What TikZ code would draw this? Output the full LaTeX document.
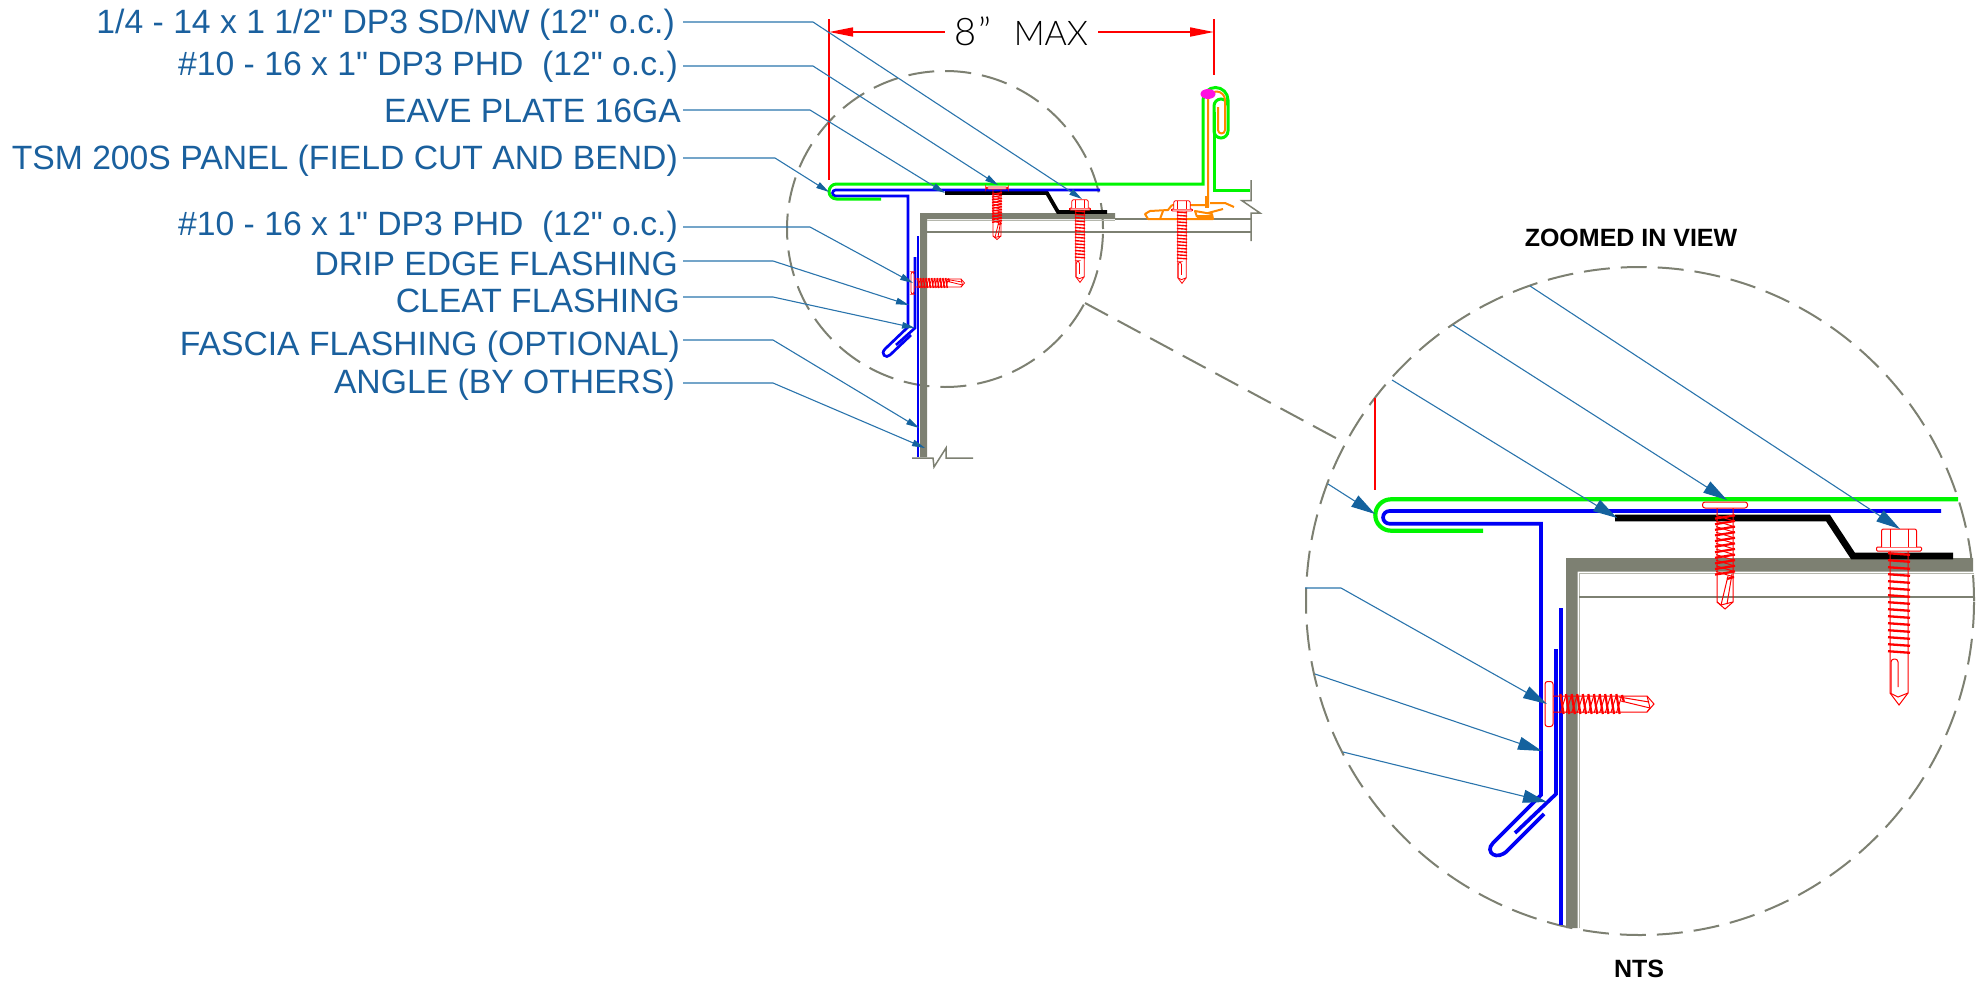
\documentclass[tikz,border=0pt]{standalone}
\usepackage{fontspec}
\setmainfont{Liberation Sans}
\newfontfamily\lblfont{Liberation Sans}
\newfontfamily\dimfont{Lato Light}
\usetikzlibrary{arrows.meta,calc}
\definecolor{cgreen}{HTML}{00F500}
\definecolor{cblue}{HTML}{0000F5}
\definecolor{cred}{HTML}{FF0000}
\definecolor{corange}{HTML}{FF8800}
\definecolor{cmag}{HTML}{FF10E0}
\definecolor{cgray}{HTML}{7D8072}
\definecolor{clight}{HTML}{B4B6AC}
\definecolor{ctext}{HTML}{1A609E}
\definecolor{cleader}{HTML}{2A74AC}
\definecolor{carrow}{HTML}{14629E}
\tikzset{
  lbl/.style={anchor=east,inner sep=0pt,text height=24pt,text depth=0pt,text=ctext,font=\lblfont\fontsize{33.7}{36}\selectfont},
  title/.style={inner sep=0pt,font=\fontsize{25}{28}\selectfont\bfseries,text=black},
  leadS/.style={draw=cleader,line width=1.1pt,-{Triangle[length=13pt,width=6.5pt,color=carrow]}},
  leadB/.style={draw=cleader,line width=1.1pt,-{Triangle[length=24pt,width=13pt,color=carrow]}},
  dimline/.style={draw=cred,line width=1.7pt},
  dimarrow/.style={draw=cred,line width=1.7pt,-{Triangle[length=24pt,width=9pt,color=cred]}},
  circ/.style={draw=cgray,line width=2pt,dash pattern=on 26pt off 11pt},
  gfill/.style={fill=cgray,draw=none},
  gline/.style={draw=cgray,line width=1.5pt},
  lightline/.style={draw=clight,line width=1pt},
  bigblue/.style={draw=cblue,line width=3.7pt,line join=miter},
  bigblack/.style={draw=black,line width=6.8pt,line join=miter},
  biggreen/.style={draw=cgreen,line width=4.2pt},
  smallblue/.style={draw=cblue,line width=2.7pt},
  smallblack/.style={draw=black,line width=3.8pt},
  smallgreen/.style={draw=cgreen,line width=3pt},
  orangeln/.style={draw=corange,line width=2pt,line join=round},
}
% hex washer-head screw, pointing down
\newcommand\hexscrew[5]{%
\begin{scope}[shift={(#1,#2)},scale=#3,draw=cred]
  \draw[line width=#4,fill=white,rounded corners=1pt] (-22.5,-4) rectangle (22.5,0);
  \draw[line width=#4,fill=white,rounded corners=2pt] (-17.5,-4) -- (-17.5,-22) -- (17.5,-22) -- (17.5,-4);
  \draw[line width=#4] (-9,-22) -- (-9,-4) (9,-22) -- (9,-4);
  \draw[line width=#4] (-9,0) -- (-9,142) -- (0,154) -- (9,142) -- (9,0);
  \draw[line width=#4,rounded corners=3pt] (-8,142) -- (-8,108) -- (-1,108) -- (-1,136);
  \draw[line width=#4] (-9,142) -- (-1,146) -- (9,142);
  \foreach \i in {0,...,14}
    \draw[line width=#5] (-11,{3+7*\i-0.8}) -- (11,{3+7*\i+0.8});
\end{scope}}
% pan-head screw: origin under the washer, pointing down unless rotated
\newcommand\panscrew[7]{%
\begin{scope}[shift={(#1,#2)},rotate=#3,scale=#4,draw=cred]
  \draw[line width=#5,fill=white,rounded corners=2.5pt] (-22.5,-#7) rectangle (22.5,0);
  \draw[line width=#5] (-8,0) -- (-8,94) -- (0,101) -- (8,94) -- (8,0);
  \draw[line width=#5] (-8,94) -- (-4,97) -- (8,94);
  \draw[line width=#5] (3,68) -- (-4,97) (7,66) -- (2,96);
  \foreach \i in {0,...,10}{
    \draw[line width=#6] (-10,{9+5.6*\i+1.6}) -- (10,{9+5.6*\i-1.6});
    \draw[line width=#5] (-9,{9+5.6*\i-1.6}) -- (9,{9+5.6*\i+4});
  }
  \draw[line width=#6] (2,71) -- (9,69);
\end{scope}}
\begin{document}
\begin{tikzpicture}[x=1pt,y=-1pt]
\useasboundingbox (0,0) rectangle (1986,980);
\coordinate (lx) at (683,0);

% ---- circles and link
\coordinate (csmall) at (945,229);
\coordinate (cbig) at (1640,601);
\draw[circ] (csmall) circle[radius=158pt];
\draw[circ] (cbig) circle[radius=334pt];
\coordinate (lka) at (1085,303);
\coordinate (lkb) at (1345,443);
\draw[circ] (lka) -- (lkb);

% ---- small view: structure
\fill[gfill] (920,457) -- (920,213) -- (1115,213) -- (1115,219) -- (927,219) -- (927,457) -- cycle;
\draw[gline] (1115,219) -- (1251,219);
\draw[lightline] (927,220) -- (1115,220);
\draw[gline] (927,232) -- (1251,232);
\draw[gline] (1251,180) -- (1251,200.7) -- (1242,200.7) -- (1260,213) -- (1251,213) -- (1251,241);
\draw[gline] (912,458) -- (933,458) -- (934,467) -- (946,448) -- (946,458) -- (973,458);
\draw[smallblack] (945,193) -- (1047,193) -- (1058,212) -- (1107,212);
\draw[smallblue] (918,236) -- (918,457);
\draw[smallblue] (1100,190) -- (835.5,190) arc[start angle=90,end angle=270,radius=3pt] -- (908,196) -- (908,327)
  -- (885,349) .. controls (880,354) and (886,359) .. (890,355) -- (911,335);
\draw[smallblue] (915,257) -- (915,328) -- (896,345);
\draw[smallgreen] (881,199) -- (836.5,199) arc[start angle=270,end angle=90,radius=7.5pt] -- (1203,184) -- (1203,100)
  arc[start angle=180,end angle=0,radius=12.5pt] -- (1228,131) arc[start angle=0,end angle=-180,radius=7pt] -- (1214,106)
  arc[start angle=180,end angle=0,radius=7pt];
\draw[smallgreen] (1214,112) -- (1214,190) -- (1250,190);
% ---- standing seam clip
\draw[orangeln] (1208,207) -- (1208,100) arc[start angle=180,end angle=0,radius=8.5pt] -- (1225,130)
  arc[start angle=0,end angle=-180,radius=3.5pt] -- (1218,107);
\draw[draw=corange,line width=3.5pt] (1207,196) -- (1207,208);
\draw[orangeln] (1172,205) -- (1205,205) (1210,203) -- (1225,203) -- (1234,207);
\draw[orangeln] (1172,205) -- (1168,210) -- (1150,211) -- (1145,214) -- (1148,219) -- (1213,219) -- (1212,214) -- (1195,211) -- (1197,217);
\draw[orangeln] (1163,211) -- (1160,219) (1208,213) -- (1223,209);
\draw[draw=corange,line width=3pt] (1197,216.5) -- (1213,216.5);
\fill[cmag] (1208,94) ellipse[x radius=7.5pt,y radius=5pt];
% ---- small screws
\panscrew{997}{189}{0}{0.5}{0.8pt}{1.4pt}{4}
\hexscrew{1080}{210}{0.47}{0.8pt}{1.4pt}
\hexscrew{1182}{211}{0.47}{0.8pt}{1.4pt}
\panscrew{914}{283}{90}{0.5}{0.8pt}{1.4pt}{6}

% ---- big view: structure
\fill[gfill] (1566,928) -- (1566,558) -- (1973,558) -- (1973,571.5) -- (1577.5,571.5) -- (1577.5,928) -- cycle;
\draw[lightline] (1579,928) -- (1579,573) -- (1974,573);
\draw[gline] (1579,597) -- (1974,597);
\draw[bigblack] (1615,518) -- (1828,518) -- (1853,556) -- (1953,556);
\draw[bigblue] (1561,608) -- (1561,925);
\draw[bigblue] (1941,511) -- (1389.4,511) arc[start angle=90,end angle=270,radius=6.35pt] -- (1541,523.7) -- (1541,795)
  -- (1493,843) .. controls (1484,852) and (1497,862) .. (1508,850) -- (1544,814);
\draw[bigblue] (1556,649) -- (1556,794) -- (1515,833);
\draw[biggreen] (1483,530.7) -- (1391,530.7) arc[start angle=270,end angle=90,radius=15.7pt] -- (1958,499.3);
% ---- big screws
\panscrew{1725}{508}{0}{1}{1pt}{2.2pt}{6}
\hexscrew{1899}{551}{1}{1pt}{2.3pt}
\panscrew{1553}{704}{90}{1}{1pt}{2.2pt}{8}

% ---- dimension
\node[inner sep=0pt,outer xsep=10pt,font=\dimfont\fontsize{35}{38}\selectfont] (dimt) at (1021.5,31) {{\fontsize{38}{38}\selectfont 8\kern2pt”}\hspace{22pt}{\fontsize{34}{38}\selectfont MAX}};
\coordinate (dl) at (829,32);
\coordinate (dr) at (1214,32);
\coordinate (dlt) at (829,19);
\coordinate (dlb) at (829,180);
\coordinate (drt) at (1214,19);
\coordinate (drb) at (1214,75);
\draw[dimline] (dlt) -- (dlb);
\draw[dimline] (drt) -- (drb);
\draw[dimarrow] (dimt.west |- dl) -- (dl);
\draw[dimarrow] (dimt.east |- dr) -- (dr);
\coordinate (rt) at (1375,398);
\coordinate (rb) at (1375,490);
\draw[dimline] (rt) -- (rb);

% ---- labels
\node[lbl] (l1) at (675,21) {1/4 - 14 x 1 1/2" DP3 SD/NW (12" o.c.)};
\node[lbl] (l2) at (678,63.5) {\#10 - 16 x 1" DP3 PHD\ \ (12" o.c.)};
\node[lbl] (l3) at (681,110) {EAVE PLATE 16GA};
\node[lbl] (l4) at (678,157) {TSM 200S PANEL (FIELD CUT AND BEND)};
\node[lbl] (l5) at (678,223.5) {\#10 - 16 x 1" DP3 PHD\ \ (12" o.c.)};
\node[lbl] (l6) at (678,263.5) {DRIP EDGE FLASHING};
\node[lbl] (l7) at (680,300) {CLEAT FLASHING};
\node[lbl] (l8) at (680,343) {FASCIA FLASHING (OPTIONAL)};
\node[lbl] (l9) at (675,381.5) {ANGLE (BY OTHERS)};
\node[title] (zoomed) at (1631,238) {ZOOMED IN VIEW};
\node[title] (nts) at (1639,969) {NTS};

% ---- small-view leaders
\coordinate (b1) at (813,22);   \coordinate (t1) at (1082,199);
\coordinate (b2) at (813,66);   \coordinate (t2) at (998,185);
\coordinate (b3) at (810,110);  \coordinate (t3) at (945,193);
\coordinate (b4) at (775,158);  \coordinate (t4) at (829,192);
\coordinate (b5) at (810,227);  \coordinate (t5) at (913,283);
\coordinate (b6) at (773,261);  \coordinate (t6) at (909,305);
\coordinate (b7) at (773,297);  \coordinate (t7) at (915,328);
\coordinate (b8) at (773,340);  \coordinate (t8) at (919,428);
\coordinate (b9) at (773,383);  \coordinate (t9) at (925,448);
\draw[leadS] ([yshift=-1pt]l1.east -| lx) -- (b1) -- (t1);
\draw[leadS] ([yshift=-2.5pt]l2.east -| lx) -- (b2) -- (t2);
\draw[leadS] (l3.east -| lx) -- (b3) -- (t3);
\draw[leadS] ([yshift=-1pt]l4.east -| lx) -- (b4) -- (t4);
\draw[leadS] ([yshift=-3.5pt]l5.east -| lx) -- (b5) -- (t5);
\draw[leadS] ([yshift=2.5pt]l6.east -| lx) -- (b6) -- (t6);
\draw[leadS] ([yshift=3pt]l7.east -| lx) -- (b7) -- (t7);
\draw[leadS] ([yshift=3pt]l8.east -| lx) -- (b8) -- (t8);
\draw[leadS] ([yshift=-1.5pt]l9.east -| lx) -- (b9) -- (t9);

% ---- big-view leaders
\coordinate (s1) at (1530,286);  \coordinate (u1) at (1900,529);
\coordinate (s2) at (1453,325);  \coordinate (u2) at (1727,500);
\coordinate (s3) at (1392,380);  \coordinate (u3) at (1617,518);
\coordinate (s4) at (1328,484);  \coordinate (u4) at (1375,514);
\coordinate (s5) at (1305,588);  \coordinate (k5) at (1341,588);  \coordinate (u5) at (1547,704);
\coordinate (s6) at (1315,674);  \coordinate (u6) at (1542,751);
\coordinate (s7) at (1343,752);  \coordinate (u7) at (1547,802);
\draw[leadB] (s1) -- (u1);
\draw[leadB] (s2) -- (u2);
\draw[leadB] (s3) -- (u3);
\draw[leadB] (s4) -- (u4);
\draw[leadB] (s5) -- (k5) -- (u5);
\draw[leadB] (s6) -- (u6);
\draw[leadB] (s7) -- (u7);
\end{tikzpicture}
\end{document}
